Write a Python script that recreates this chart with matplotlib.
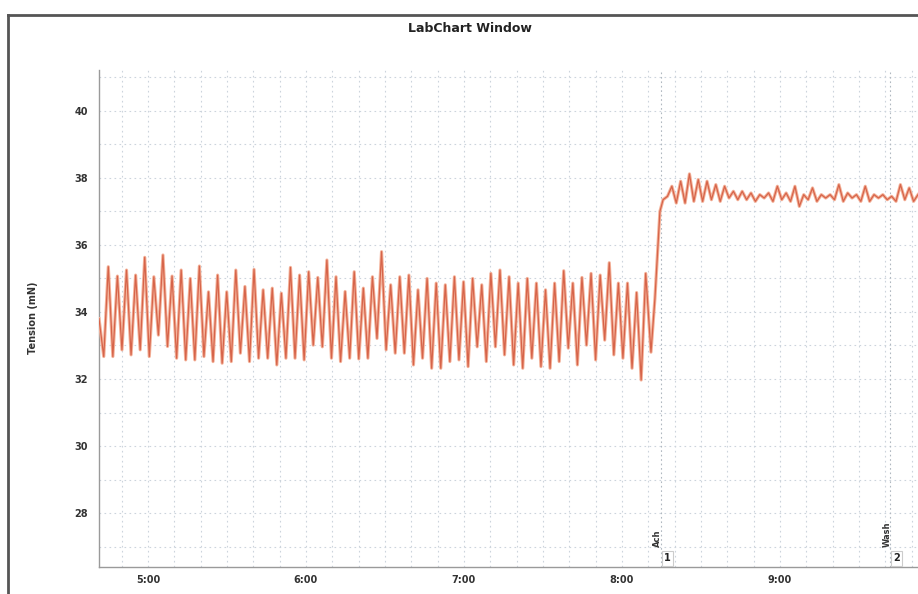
import numpy as np
import matplotlib.pyplot as plt
from matplotlib.ticker import FuncFormatter, MultipleLocator
from matplotlib.lines import Line2D

# tension trace (mN)
# baseline part: alternating trough -> peak, left to right
troughs = [32.67, 32.67, 32.87, 32.72, 32.87, 32.67, 33.31, 32.97, 32.62, 32.57,
           32.57, 32.67, 32.52, 32.47,
           32.52, 32.77, 32.52, 32.62, 32.62, 32.42, 32.62, 32.62, 32.57, 33.01,
           32.96, 32.62, 32.52, 32.62, 32.60,
           32.62, 33.21, 32.87, 32.77, 32.77, 32.42, 32.62, 32.32, 32.32, 32.52,
           32.57, 32.37, 32.96, 32.52, 32.96,
           32.72, 32.42, 32.32, 32.62, 32.37, 32.32, 32.52, 32.92, 32.42, 33.01,
           32.57, 33.16, 32.72, 32.62, 32.32, 31.97]
peaks = [35.35, 35.07, 35.25, 35.10, 35.63, 35.05, 35.70, 35.07, 35.25, 35.00,
         35.37, 34.60, 35.10, 34.60,
         35.25, 34.76, 35.27, 34.66, 34.71, 34.56, 35.33, 35.10, 35.20, 35.03,
         35.55, 35.05, 34.61, 35.20, 34.71,
         35.05, 35.80, 34.81, 35.05, 35.10, 34.66, 35.00, 34.86, 34.81, 35.05,
         34.90, 35.00, 34.81, 35.15, 35.25,
         35.05, 34.86, 35.00, 34.86, 34.66, 34.86, 35.23, 34.86, 35.03, 35.15,
         35.10, 35.47, 34.86, 34.86, 34.58, 35.15]
start_t, start_v = 281.4, 33.8        # value at left edge (s, mN)
osc_start, osc_end = 283.2, 489.0     # first trough / last peak (s)

# step after Ach
tail_t = [491.0, 492.5, 494.4]
tail_v = [32.8, 34.4, 37.0]

# plateau after Ach
plateau = [37.35, 37.45, 37.75, 37.25, 37.90, 37.25, 38.12, 37.30, 37.95, 37.30,
           37.90, 37.35, 37.80, 37.30, 37.75, 37.40, 37.60, 37.35, 37.60, 37.35,
           37.55, 37.30, 37.50, 37.40, 37.55, 37.30, 37.75, 37.35, 37.55, 37.30,
           37.75, 37.15, 37.50, 37.35, 37.70, 37.30, 37.50, 37.40, 37.50, 37.35,
           37.80, 37.30, 37.55, 37.40, 37.50, 37.30, 37.75, 37.30, 37.50, 37.40,
           37.50, 37.35, 37.45, 37.30, 37.80, 37.35, 37.70, 37.30, 37.50]
plateau_start, plateau_end = 495.6, 592.4

# comment markers
comments = ['Ach', 'Wash']
comment_num = ['1', '2']
comment_t = [494.8, 581.8]

# build the trace
osc_v = np.empty(2 * len(peaks))
osc_v[0::2] = troughs
osc_v[1::2] = peaks
osc_t = np.linspace(osc_start, osc_end, len(osc_v))
plat_t = np.linspace(plateau_start, plateau_end, len(plateau))

t = np.concatenate([[start_t], osc_t, tail_t, plat_t])
v = np.concatenate([[start_v], osc_v, tail_v, plateau])

fig = plt.figure(figsize=(9.18, 5.94), dpi=100)
ax = fig.add_axes([99 / 918, 1 - 567 / 594, 1 - 99 / 918, (567 - 70) / 594])

# blurry look: wide pale stroke + darker core
ax.plot(t, v, color='#f4b29a', lw=2.3, zorder=3)
ax.plot(t, v, color='#d6644a', lw=0.9, zorder=4)

ax.set_xlim(281.4, 592.4)
ax.set_ylim(26.39, 41.22)

ax.xaxis.set_major_locator(MultipleLocator(60))
ax.xaxis.set_minor_locator(MultipleLocator(10))
ax.yaxis.set_major_locator(MultipleLocator(2))
ax.yaxis.set_minor_locator(MultipleLocator(1))
ax.xaxis.set_major_formatter(FuncFormatter(lambda s, p: f'{int(s // 60)}:{int(s % 60):02d}'))
ax.yaxis.set_major_formatter(FuncFormatter(lambda y, p: f'{y:.0f}'))

ax.grid(which='both', color='#ccd4dc', ls=(0, (1.5, 3)), lw=0.8)
ax.tick_params(which='both', length=0, labelsize=7, colors='#333333', pad=8)
ax.tick_params(axis='x', pad=6)
for lab in ax.get_xticklabels() + ax.get_yticklabels():
    lab.set_fontweight('bold')

for side in ['top', 'right']:
    ax.spines[side].set_visible(False)
for side in ['left', 'bottom']:
    ax.spines[side].set_color('#9a9a9a')
    ax.spines[side].set_linewidth(1.0)

# comment markers
for name, num, ct in zip(comments, comment_num, comment_t):
    ax.axvline(ct, color='#b0b8c0', ls=(0, (1.5, 2.5)), lw=0.8, zorder=2)
    ax.text(ct - 1.2, 27.0, name, rotation=90, fontsize=6, ha='center', va='bottom',
            color='#333333', fontweight='bold', zorder=5)
    ax.text(ct + 2.5, 26.65, num, fontsize=7, ha='center', va='center', color='#222222',
            fontweight='bold', zorder=5,
            bbox=dict(boxstyle='square,pad=0.25', fc='white', ec='#cccccc', lw=0.8))

fig.text(470 / 918, 1 - 28 / 594, 'LabChart Window', ha='center', va='center',
         fontsize=9, fontweight='bold', color='#222222')
fig.text(33 / 918, 1 - 318 / 594, 'Tension (mN)', rotation=90, ha='center', va='center',
         fontsize=7, fontweight='bold', color='#333333')

# window frame
fig.add_artist(Line2D([8 / 918, 1.0], [1 - 15 / 594, 1 - 15 / 594], transform=fig.transFigure,
                      color='#555555', lw=2.0))
fig.add_artist(Line2D([8 / 918, 8 / 918], [0.0, 1 - 15 / 594], transform=fig.transFigure,
                      color='#555555', lw=2.0))

fig.savefig('out.png', dpi=100)
